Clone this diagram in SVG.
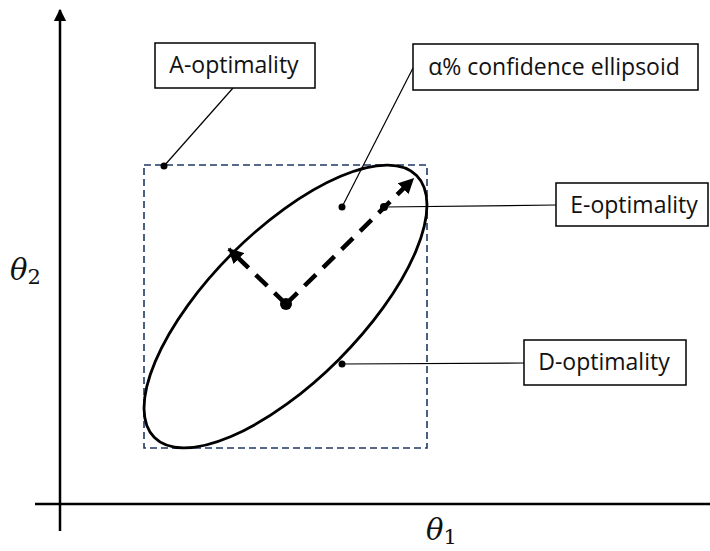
<svg xmlns="http://www.w3.org/2000/svg" width="710" height="551" viewBox="0 0 710 551">
<style>
.box{fill:#fff;stroke:#000;stroke-width:1.5}
.lbl{font-family:"Open Sans","Noto Sans",sans-serif;font-size:23px;fill:#111;text-anchor:middle}
.lead{stroke:#000;stroke-width:1.2;fill:none}
.dot{fill:#000}
.axis{stroke:#000;stroke-width:2.5;fill:none}
.math{font-family:"DejaVu Serif","Liberation Serif",serif;font-style:italic;fill:#111}
</style>
<defs>
<marker id="ah" viewBox="0 0 10 10" refX="9" refY="5" markerWidth="3.4" markerHeight="3.4" orient="auto" markerUnits="strokeWidth">
<path d="M0,0 L10,5 L0,10 z" fill="#000"/>
</marker>
<marker id="axh" viewBox="0 0 10 10" refX="9" refY="5" markerWidth="5" markerHeight="5" orient="auto" markerUnits="strokeWidth">
<path d="M0,0 L10,5 L0,10 z" fill="#000"/>
</marker>
</defs>
<rect width="710" height="551" fill="#fff"/>
<g id="axes">
<line class="axis" x1="60" y1="531" x2="60" y2="10" marker-end="url(#axh)"/>
<line class="axis" x1="35" y1="504" x2="710" y2="504"/>
<text class="math" x="10" y="280" font-size="29">θ<tspan font-size="21" font-style="normal" dy="4">2</tspan></text>
<text class="math" x="426" y="540" font-size="29">θ<tspan font-size="21" font-style="normal" dy="4">1</tspan></text>
</g>
<g id="bounding-box">
<rect x="144" y="165" width="283" height="283" fill="none" stroke="#1f3864" stroke-width="1.6" stroke-dasharray="7,4"/>
</g>
<g id="ellipse">
<ellipse cx="285.5" cy="306.5" rx="185.4" ry="75.2" transform="rotate(-45 285.5 306.5)" fill="none" stroke="#000" stroke-width="2.8"/>
</g>
<g id="axes-arrows">
<line x1="286" y1="304" x2="413" y2="179" stroke="#000" stroke-width="4.5" stroke-dasharray="16,10" marker-end="url(#ah)"/>
<line x1="286" y1="304" x2="229" y2="249" stroke="#000" stroke-width="4.5" stroke-dasharray="16,10" marker-end="url(#ah)"/>
<circle class="dot" cx="286" cy="304" r="6"/>
</g>
<g id="connectors">
<line class="lead" x1="164" y1="166" x2="233" y2="88"/>
<line class="lead" x1="342" y1="207" x2="413" y2="68"/>
<line class="lead" x1="384" y1="207" x2="556" y2="205"/>
<line class="lead" x1="342" y1="364" x2="524" y2="363"/>
<circle class="dot" cx="164" cy="166" r="3.5"/>
<circle class="dot" cx="342" cy="207" r="3.5"/>
<circle class="dot" cx="384" cy="207" r="4"/>
<circle class="dot" cx="342" cy="364" r="3.5"/>
</g>
<g id="a-optimality">
<rect class="box" x="155" y="43" width="160" height="45"/>
<text class="lbl" x="234" y="73">A-optimality</text>
</g>
<g id="confidence-ellipsoid">
<rect class="box" x="413" y="44" width="285" height="46"/>
<text class="lbl" x="554" y="75">α% confidence ellipsoid</text>
</g>
<g id="e-optimality">
<rect class="box" x="556" y="183" width="152" height="43"/>
<text class="lbl" x="634" y="213">E-optimality</text>
</g>
<g id="d-optimality">
<rect class="box" x="524" y="340" width="162" height="45"/>
<text class="lbl" x="604" y="370">D-optimality</text>
</g>
</svg>
